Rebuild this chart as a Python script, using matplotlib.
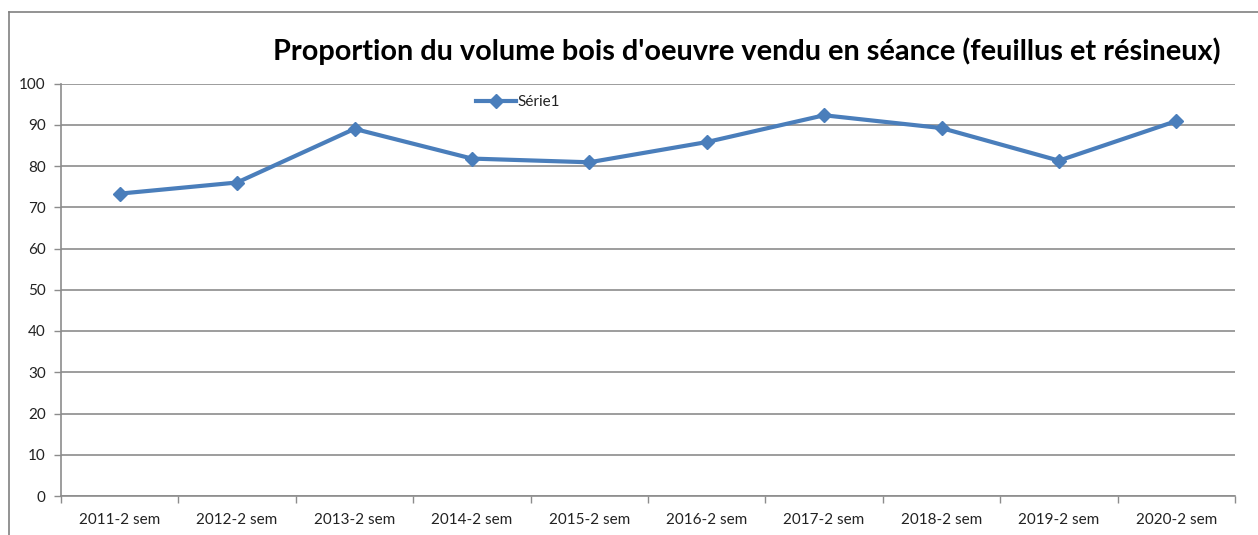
import matplotlib
matplotlib.use("Agg")
import matplotlib.pyplot as plt
from matplotlib.lines import Line2D

categories = ["2011-2 sem", "2012-2 sem", "2013-2 sem", "2014-2 sem", "2015-2 sem",
              "2016-2 sem", "2017-2 sem", "2018-2 sem", "2019-2 sem", "2020-2 sem"]
serie1 = [73.3, 76.0, 89.0, 81.8, 80.9, 85.8, 92.3, 89.2, 81.3, 90.9]
yticks = [0, 10, 20, 30, 40, 50, 60, 70, 80, 90, 100]
title = "Proportion du volume bois d'oeuvre vendu en séance (feuillus et résineux)"

plt.rcParams['font.family'] = ['Lato', 'DejaVu Sans']

W, H = 1258, 535
fig = plt.figure(figsize=(W / 100, H / 100), dpi=100)
fig.patch.set_facecolor("white")

ax = fig.add_axes([61 / W, 1 - 496 / H, (1235 - 61) / W, (496 - 83.5) / H])

x = list(range(len(categories)))
ax.plot(x, serie1, color="#4A7EBB", lw=3, marker="D", ms=7, mec="#4A7EBB",
        mfc="#4A7EBB", label="Série1", solid_joinstyle="round", zorder=3)

ax.set_xlim(-0.5, len(categories) - 0.5)
ax.set_ylim(0, 100)
ax.set_yticks(yticks)
ax.set_yticklabels([str(v) for v in yticks])
ax.yaxis.grid(True, color="#8C8C8C", lw=1.2)
ax.set_axisbelow(True)

ax.set_xticks([i - 0.5 for i in range(len(categories) + 1)], minor=False)
ax.set_xticklabels([])
ax.set_xticks(x, minor=True)
ax.set_xticklabels(categories, minor=True)
ax.tick_params(axis="x", which="major", length=5, width=1, color="#8C8C8C", direction="out")
ax.tick_params(axis="x", which="minor", length=0, pad=12, labelsize=11, labelcolor="#222222")
ax.tick_params(axis="y", length=5, width=1, color="#8C8C8C", pad=6, labelsize=11,
               labelcolor="#222222")

for s in ["top", "right"]:
    ax.spines[s].set_visible(False)
for s in ["left", "bottom"]:
    ax.spines[s].set_color("#8C8C8C")
    ax.spines[s].set_linewidth(1.2)

leg = ax.legend(loc="center left", bbox_to_anchor=((470 - 61) / (1235 - 61), 1 - (102 - 83.5) / (496 - 83.5)),
                frameon=False, handlelength=2.6, handletextpad=0.1, fontsize=11,
                borderaxespad=0)
for t in leg.get_texts():
    t.set_color("#222222")

fig.text(747 / W, 1 - 51 / H, title, ha="center", va="center", fontsize=20.8,
         fontweight="bold", color="black")

# outer chart border (left and top)
fig.add_artist(Line2D([9 / W, 9 / W], [0, 1 - 12 / H], transform=fig.transFigure,
                      color="#808080", lw=1.2))
fig.add_artist(Line2D([9 / W, 1], [1 - 12 / H, 1 - 12 / H], transform=fig.transFigure,
                      color="#808080", lw=1.2))

fig.savefig("out.png", dpi=100, facecolor="white")
